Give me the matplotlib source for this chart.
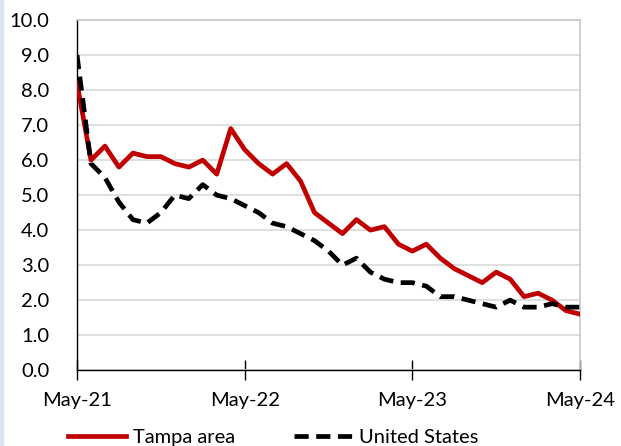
import numpy as np
import pandas as pd
import matplotlib
matplotlib.use('Agg')
import matplotlib.pyplot as plt
from matplotlib.patches import Rectangle

months = pd.date_range('2021-05-01', '2024-05-01', freq='MS')
tampa = [8.2, 6.0, 6.4, 5.8, 6.2, 6.1, 6.1, 5.9, 5.8, 6.0, 5.6, 6.9,
         6.3, 5.9, 5.6, 5.9, 5.4, 4.5, 4.2, 3.9, 4.3, 4.0, 4.1, 3.6,
         3.4, 3.6, 3.2, 2.9, 2.7, 2.5, 2.8, 2.6, 2.1, 2.2, 2.0, 1.7, 1.6]
us = [9.0, 5.9, 5.5, 4.8, 4.3, 4.2, 4.5, 5.0, 4.9, 5.3, 5.0, 4.9,
      4.7, 4.5, 4.2, 4.1, 3.9, 3.7, 3.4, 3.0, 3.2, 2.8, 2.6, 2.5,
      2.5, 2.4, 2.1, 2.1, 2.0, 1.9, 1.8, 2.0, 1.8, 1.8, 1.9, 1.8, 1.8]
tick_labels = ['May-21', 'May-22', 'May-23', 'May-24']

plt.rcParams['font.family'] = ['Lato', 'DejaVu Sans']

fig = plt.figure(figsize=(6.21, 4.46), dpi=100)
ax = fig.add_axes([0.124, 0.170, 0.810, 0.785])

x = np.arange(len(months))
ax.plot(x, tampa, color='#c00000', lw=3.4, label='Tampa area', zorder=3)
ax.plot(x, us, color='black', lw=3.4, ls=(0, (3, 1.6)), label='United States', zorder=4)

ax.set_xlim(0, 36)
ax.set_ylim(0, 10)
ax.set_yticks(np.arange(0, 10.1, 1))
ax.set_yticklabels([f'{v:.1f}' for v in np.arange(0, 10.1, 1)], fontsize=14.5)
ax.set_xticks([0, 12, 24, 36])
ax.set_xticklabels(tick_labels, fontsize=14.5)
ax.grid(axis='y', color='#d9d9d9', lw=1.2)
ax.set_axisbelow(True)

ax.tick_params(axis='y', length=0, pad=20)
ax.tick_params(axis='x', direction='inout', length=14, width=1, pad=9)
for s in ['top', 'right']:
    ax.spines[s].set_color('#c8c8c8')
    ax.spines[s].set_linewidth(1.2)
ax.spines['left'].set_color('black')
ax.spines['bottom'].set_color('black')
ax.spines['left'].set_linewidth(1)
ax.spines['bottom'].set_linewidth(1)

ax.legend(loc='upper center', bbox_to_anchor=(0.39, -0.115), ncol=2, frameon=False,
          fontsize=14.5, handlelength=2.9, columnspacing=2.9, handletextpad=0.35)

fig.patches.append(Rectangle((0, 0), 3 / 621, 1, transform=fig.transFigure,
                             color='#dce6f2', zorder=0))

fig.savefig('out.png', dpi=100)
